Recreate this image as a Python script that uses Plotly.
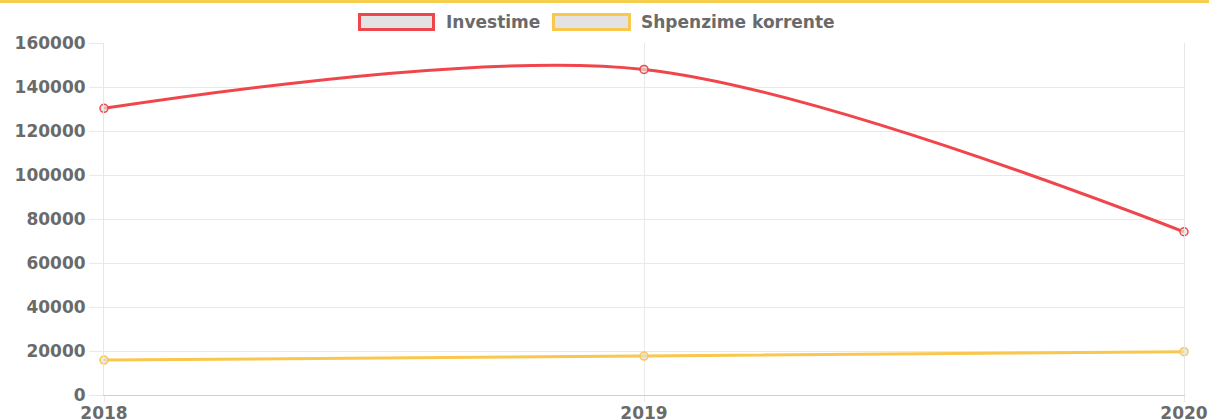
import plotly.graph_objects as go

years = [2018, 2019, 2020]
series_names = ["Investime", "Shpenzime korrente"]
investime = [130300, 148000, 74200]
shpenzime = [15900, 17700, 19700]
y_ticks = [0, 20000, 40000, 60000, 80000, 100000, 120000, 140000, 160000]

colors = ["#f0464b", "#f9c74e"]
series = [investime, shpenzime]

W, H = 1209, 420
ML, MR, MT, MB = 104, 25, 43, 25
PW, PH = W - ML - MR, H - MT - MB

def px(x):
    return (x - ML) / PW

def py(y):
    return (H - MB - y) / PH

fig = go.Figure()
for name, vals, col in zip(series_names, series, colors):
    fig.add_trace(go.Scatter(
        x=years, y=vals, name=name, mode="lines+markers",
        line=dict(color=col, width=3, shape="spline", smoothing=0.9),
        marker=dict(symbol="circle", size=8, color="rgba(225,225,225,0.7)",
                    line=dict(color=col, width=1.5)),
        cliponaxis=False, showlegend=False,
    ))

font = dict(family="DejaVu Sans", size=17, color="#6a6a6a", weight="bold")

shapes = [
    # top yellow bar
    dict(type="rect", xref="paper", yref="paper", x0=px(-5), x1=px(W + 5),
         y0=py(0), y1=py(3), fillcolor="#f7cd4d", line=dict(width=0), layer="above"),
]
annotations = []
legend_items = [
    (358, 435, 444),
    (552, 631, 639),
]
for (bx0, bx1, tx), name, col in zip(legend_items, series_names, colors):
    shapes.append(dict(type="rect", xref="paper", yref="paper",
                       x0=px(bx0 + 1.5), x1=px(bx1 - 1.5), y0=py(14.5), y1=py(29.5),
                       fillcolor="#e3e3e3", line=dict(color=col, width=3)))
    annotations.append(dict(xref="paper", yref="paper", x=px(tx), y=py(22),
                            xanchor="left", yanchor="middle", text=name,
                            showarrow=False, font=font))

fig.update_layout(
    width=W, height=H,
    margin=dict(l=ML, r=MR, t=MT, b=MB, autoexpand=False),
    paper_bgcolor="white", plot_bgcolor="white",
    shapes=shapes, annotations=annotations,
    showlegend=False,
    xaxis=dict(range=[2018, 2020], tickvals=years, ticktext=[str(y) for y in years],
               showgrid=True, gridcolor="#e9e9e9", gridwidth=1,
               ticks="outside", ticklen=6, tickcolor="#e9e9e9",
               ticklabelstandoff=-3,
               zeroline=False, showline=True, linecolor="#d0d0d0", linewidth=1,
               tickfont=font, automargin=False),
    yaxis=dict(range=[0, 160000], tickvals=y_ticks, ticktext=[str(v) for v in y_ticks],
               showgrid=True, gridcolor="#e9e9e9", gridwidth=1,
               ticks="outside", ticklen=14, tickcolor="#e9e9e9",
               zeroline=False, showline=True, mirror=True, linecolor="#e6e6e6",
               linewidth=1, tickfont=font, automargin=False),
)

fig.write_html(
    "out.html",
    config={"responsive": False, "displayModeBar": False},
    post_script="document.body.style.margin='0';document.body.style.overflow='hidden';",
)
